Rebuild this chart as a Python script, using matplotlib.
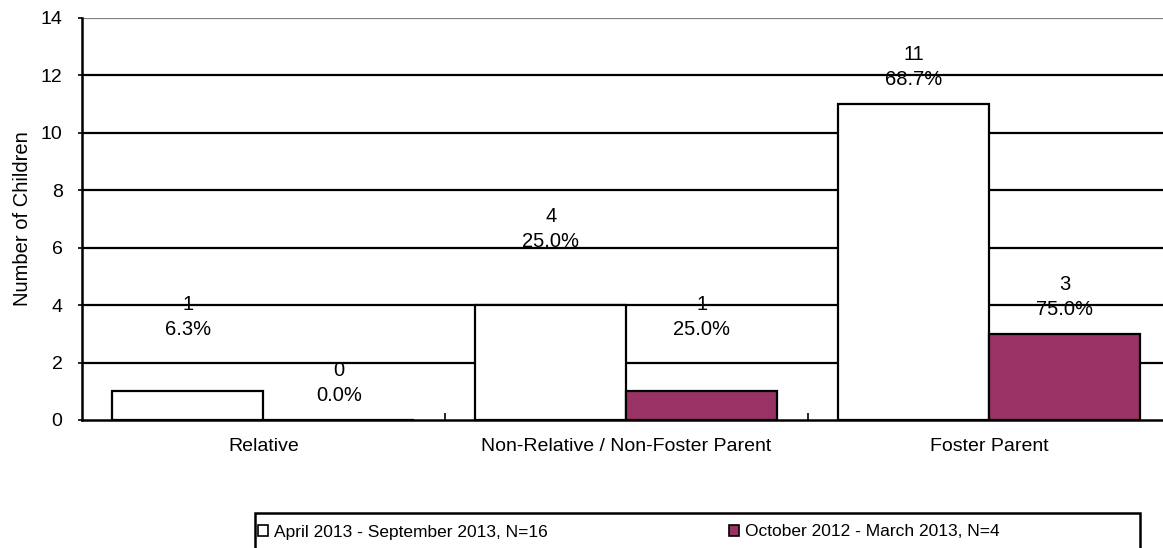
import numpy as np
import matplotlib.pyplot as plt
from matplotlib.patches import Rectangle

plt.rcParams['font.family'] = ['Liberation Sans', 'DejaVu Sans']

categories = ['Relative', 'Non-Relative / Non-Foster Parent', 'Foster Parent']
recent_label = 'April 2013 - September 2013, N=16'
prior_label = 'October 2012 - March 2013, N=4'
recent_counts = [1, 4, 11]
prior_counts = [0, 1, 3]
recent_pct = ['6.3%', '25.0%', '68.7%']
prior_pct = ['0.0%', '25.0%', '75.0%']

# label heights above each bar (data units)
recent_lift = [2.6, 2.65, 1.3]
prior_lift = [1.3, 2.6, 1.3]

purple = '#993366'
x = np.arange(len(categories))
w = 0.416

fig = plt.figure(figsize=(11.63, 5.48), dpi=100)
ax = fig.add_axes([0.0705, 0.2336, 0.936, 0.7336])

ax.set_ylim(0, 14)
ax.set_xlim(-0.5, 2.5)
ax.set_yticks(range(0, 15, 2))
for yv in range(2, 14, 2):
    ax.axhline(yv, color='black', lw=1.6, zorder=1)
ax.axhline(14, color='#808080', lw=1.6, zorder=1)

ax.bar(x - w / 2, recent_counts, w, color='white', edgecolor='black', lw=1.6, zorder=3)
ax.bar(x + w / 2, prior_counts, w, color=purple, edgecolor='black', lw=1.6, zorder=3)

for i in range(len(categories)):
    ax.text(x[i] - w / 2, recent_counts[i] + recent_lift[i], f'{recent_counts[i]}\n{recent_pct[i]}',
            ha='center', va='center', fontsize=14.5, linespacing=1.4, zorder=4)
    ax.text(x[i] + w / 2, prior_counts[i] + prior_lift[i], f'{prior_counts[i]}\n{prior_pct[i]}',
            ha='center', va='center', fontsize=14.5, linespacing=1.4, zorder=4)

for s in ['top', 'right']:
    ax.spines[s].set_visible(False)
ax.spines['left'].set_linewidth(1.8)
ax.spines['bottom'].set_linewidth(1.8)

ax.set_xticks(x)
ax.set_xticklabels(categories, fontsize=14)
ax.tick_params(axis='x', which='major', length=0, pad=13)
ax.set_xticks([0.5, 1.5], minor=True)
ax.tick_params(axis='x', which='minor', direction='in', length=5, width=1.2)
ax.tick_params(axis='y', length=3, width=1.2, labelsize=14, pad=11)
ax.set_ylabel('Number of Children', fontsize=14.5, labelpad=6)

# legend box along the bottom
fig.add_artist(Rectangle((255 / 1163, -0.05), 885 / 1163, 0.05 + 1 - 513 / 548,
                         transform=fig.transFigure, facecolor='none', edgecolor='black', lw=1.8))
handles = [Rectangle((0, 0), 1, 1, facecolor='white', edgecolor='black', lw=1.2),
           Rectangle((0, 0), 1, 1, facecolor=purple, edgecolor='black', lw=1.2)]
fig.legend(handles, [recent_label, prior_label], ncol=2, loc='center left',
           bbox_to_anchor=(258 / 1163, 1 - 532 / 548), fontsize=12.5, frameon=False,
           handlelength=0.6, handleheight=0.6, handletextpad=0.35, columnspacing=10.4,
           borderpad=0, borderaxespad=0)

fig.savefig('out.png', dpi=100)
